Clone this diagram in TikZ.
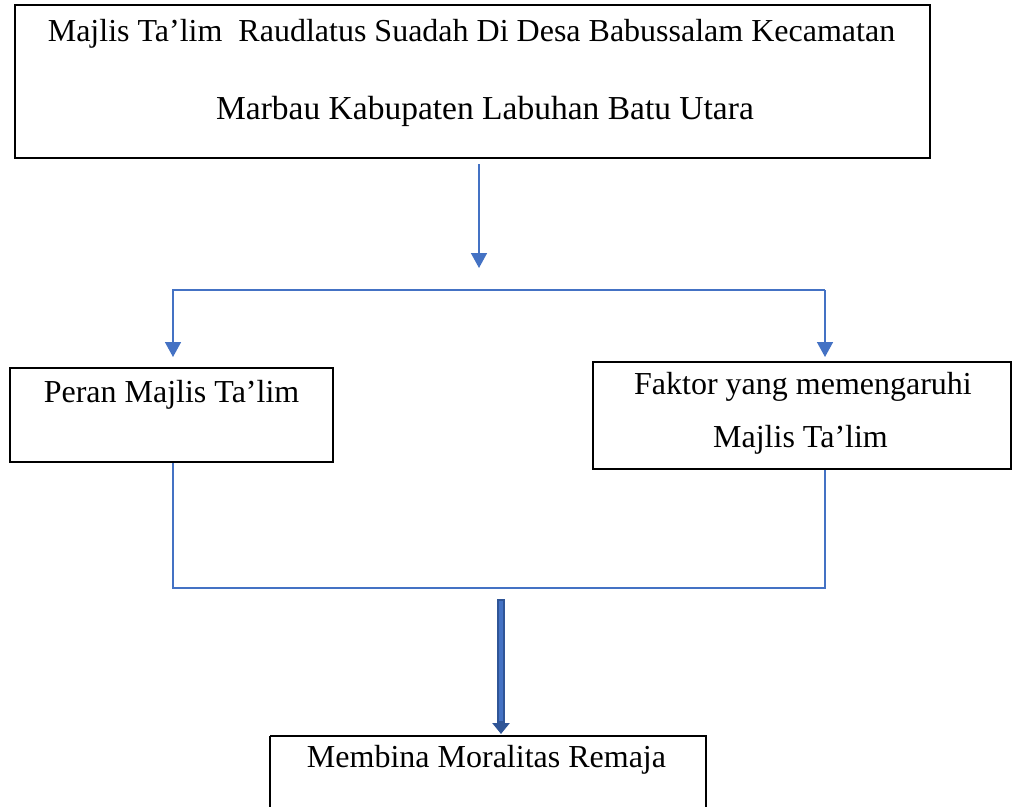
\documentclass[tikz,border=0pt]{standalone}
\usepackage{fontspec}
\setmainfont{Liberation Serif}
\usetikzlibrary{arrows.meta}
\definecolor{lblue}{RGB}{68,114,196}
\definecolor{dblue}{RGB}{47,85,151}
\begin{document}
\begin{tikzpicture}[x=1pt,y=-1pt,
  box/.style={draw=black,line width=2pt},
  txt/.style={font=\fontsize{32}{36}\selectfont,inner sep=0pt,anchor=base},
  conn/.style={draw=lblue,line width=1.6pt},
  arr/.style={conn,-{Triangle[length=15pt,width=16pt]}}]
\useasboundingbox (0,0) rectangle (1014,806);
% boxes
\draw[box] (15,5) rectangle (930,158);
\node[txt] (t1) at (471.5,41) {Majlis Ta’lim\ \ Raudlatus Suadah Di Desa Babussalam Kecamatan};
\node[txt,font=\fontsize{33.5}{38}\selectfont] (t2) at (485,119) {Marbau Kabupaten Labuhan Batu Utara};
\draw[box] (10,368) rectangle (333,462);
\node[txt] (p1) at (171.5,402) {Peran Majlis Ta’lim};
\draw[box] (593,362) rectangle (1011,469);
\node[txt] (f1) at (803,394) {Faktor yang memengaruhi};
\node[txt] (f2) at (800.5,447) {Majlis Ta’lim};
\draw[box] (270,736) -- (270,820) (270,736) -- (706,736) -- (706,820);
\node[txt] (m1) at (486.5,767) {Membina Moralitas Remaja};
% connectors
\coordinate (a0) at (479,164);
\coordinate (a1) at (479,268);
\draw[arr] (a0) -- (a1);
\coordinate (hl) at (173,290);
\coordinate (hr) at (825,290);
\coordinate (dl) at (173,357);
\coordinate (dr) at (825,357);
\draw[arr] (hr) -- (hl) -- (dl);
\draw[arr] (hr) -- (dr);
\coordinate (bl) at (173,463);
\coordinate (br) at (825,470);
\coordinate (jl) at (173,588);
\coordinate (jr) at (825,588);
\draw[conn] (bl) -- (jl) -- (jr) -- (br);
\coordinate (k0) at (501,599);
\coordinate (k1) at (501,734);
\draw[draw=dblue,line width=8pt,-{Triangle[length=11pt,width=17pt]}] (k0) -- (k1);
\draw[draw=lblue,line width=3.5pt] (501,601) -- (501,721);
\end{tikzpicture}
\end{document}
